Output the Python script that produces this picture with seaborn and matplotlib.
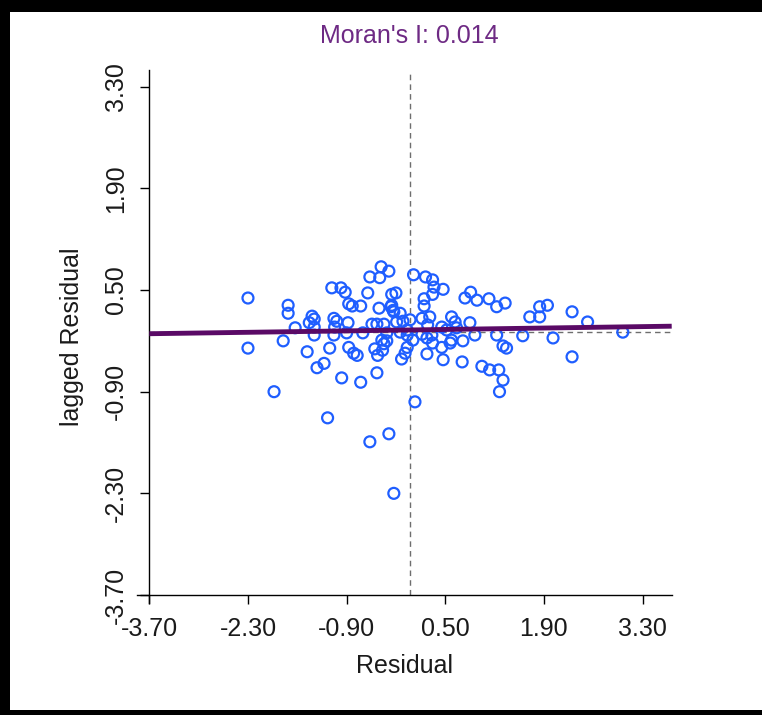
import numpy as np
import pandas as pd
import matplotlib
matplotlib.use("Agg")
import matplotlib.pyplot as plt
from matplotlib.patches import Rectangle
import seaborn as sns

# ---- data ----
residual = [-2.30, -2.30, -1.73, -1.73, -1.63, -1.80, -1.93, -1.46, -1.39, -1.36,
            -1.43, -1.36, -1.36, -1.32, -1.22, -1.14, -1.11, -0.98, -0.92, -1.08,
            -1.04, -1.07, -1.08, -0.90, -0.88, -0.87, -0.82, -0.70, -0.87, -0.80,
            -0.75, -0.97, -0.70, -0.60, -0.67, -0.57, -0.43, -0.41, -0.30, -0.44,
            -0.27, -0.24, -0.54, -0.47, -0.37, -0.40, -0.33, -0.37, -0.50, -0.46,
            -0.39, -0.47, -0.26, -0.14, -0.19, -0.10, -0.14, -0.04, -0.04, -0.12,
            -0.33, 0.05, 0.22, 0.32, 0.34, 0.47, 0.32, 0.20, 0.20, -0.20,
            0.78, 0.86, 0.95, 1.12, 1.23, 1.35, -0.26, -0.23, 0.00, 0.17,
            0.28, 0.25, 0.59, 0.64, 0.66, 0.85, 0.45, 0.52, -0.04, 0.04,
            0.17, 0.24, 0.31, 0.32, 0.45, 0.57, 0.59, 0.75, 0.92, -0.07,
            0.24, 0.47, 0.74, 1.23, 1.32, 1.37, 1.60, 1.70, 1.84, 1.84,
            1.95, 2.30, 2.52, 3.02, 2.03, 2.30, 1.02, 1.13, 1.26, 1.32,
            1.27, 0.07, -1.17, -0.57, -0.30, -0.23]
lagged = [0.39, -0.30, 0.29, 0.18, -0.02, -0.20, -0.90, -0.35, 0.14, 0.10,
          0.05, -0.01, -0.12, -0.57, -0.51, -0.30, 0.53, 0.53, 0.47, 0.11,
          0.07, -0.01, -0.12, -0.09, 0.05, 0.31, 0.28, 0.28, -0.29, -0.37,
          -0.40, -0.71, -0.77, 0.46, -0.09, 0.68, 0.67, 0.82, 0.76, 0.25,
          0.27, 0.22, 0.03, 0.03, 0.03, -0.19, -0.20, -0.24, -0.31, -0.40,
          -0.33, -0.64, 0.44, 0.18, 0.06, 0.07, -0.08, -0.05, -0.29, -0.45,
          -0.09, 0.71, 0.68, 0.64, 0.54, 0.51, 0.44, 0.38, 0.28, 0.46,
          0.39, 0.47, 0.36, 0.38, 0.27, 0.32, 0.29, 0.20, 0.09, 0.11,
          0.13, 0.02, 0.13, 0.06, -0.02, 0.05, -0.01, -0.05, -0.12, -0.19,
          -0.11, -0.16, -0.12, -0.23, -0.29, -0.23, -0.19, -0.20, -0.12, -0.37,
          -0.38, -0.46, -0.49, -0.12, -0.27, -0.30, -0.13, 0.13, 0.13, 0.27,
          0.29, 0.20, 0.06, -0.08, -0.16, -0.42, -0.55, -0.60, -0.60, -0.74,
          -0.90, -1.04, -1.26, -1.59, -1.48, -2.30]
tick_values = [-3.70, -2.30, -0.90, 0.50, 1.90, 3.30]
tick_labels = ["-3.70", "-2.30", "-0.90", "0.50", "1.90", "3.30"]
morans_i = 0.014
intercept = -0.05
residual_mean = 0.0
lagged_mean = -0.075
title_text = "Moran's I: 0.014"

df = pd.DataFrame({"Residual": residual, "lagged Residual": lagged})

sns.set_style("white")
plt.rcParams["font.family"] = ["Liberation Sans", "DejaVu Sans"]

W, H = 762, 715
fig = plt.figure(figsize=(W / 100, H / 100), dpi=100)
fig.patch.set_facecolor("black")
fig.add_artist(Rectangle((10 / W, 5 / H), (W - 10) / W, (H - 17) / H,
                         transform=fig.transFigure, facecolor="white",
                         edgecolor="none", zorder=-5))

ax = fig.add_axes([137 / W, (H - 603) / H, (671.7 - 137) / W, (603 - 70) / H])
ax.set_facecolor("none")

xlim = (-3.875, 3.714)
ylim = (-3.81, 3.53)
x_start_frac = (tick_values[0] - xlim[0]) / (xlim[1] - xlim[0])
y_start_frac = (tick_values[0] - ylim[0]) / (ylim[1] - ylim[0])

# reference lines
ax.axvline(residual_mean, ymin=y_start_frac, color="#6e6e6e", lw=1.0,
           ls=(0, (4, 3)), zorder=1)
ax.axhline(lagged_mean, xmin=x_start_frac, color="#6e6e6e", lw=1.0,
           ls=(0, (4, 3)), zorder=1)

sns.scatterplot(data=df, x="Residual", y="lagged Residual", ax=ax,
                marker="o", s=62, fc="none", ec="#1f5eff", linewidth=1.6,
                zorder=3)

line_x = np.array([tick_values[0], xlim[1]])
ax.plot(line_x, intercept + morans_i * line_x, color="#5a0a66", lw=3.5,
        zorder=4, solid_capstyle="butt")

ax.set_xlim(*xlim)
ax.set_ylim(*ylim)

for side in ["top", "right"]:
    ax.spines[side].set_visible(False)
ax.spines["left"].set_position(("data", tick_values[0]))
ax.spines["bottom"].set_position(("data", tick_values[0]))
for side in ["left", "bottom"]:
    ax.spines[side].set_linewidth(1.0)
    ax.spines[side].set_color("black")

ax.set_xticks(tick_values)
ax.set_xticklabels(tick_labels)
ax.set_yticks(tick_values)
ax.set_yticklabels(tick_labels, rotation=90, va="center")
ax.tick_params(axis="both", direction="out", length=6.5, width=1.0,
               color="black", labelsize=18, labelcolor="#1a1a1a", pad=9,
               left=True, bottom=True)

ax.set_xlabel("Residual", fontsize=18, color="#1a1a1a", labelpad=10)
ax.set_ylabel("lagged Residual", fontsize=18, color="#1a1a1a", labelpad=14)

fig.text(409 / W, 1 - 36 / H, title_text, ha="center", va="center",
         fontsize=18, color="#6e2a84")

fig.savefig("out.png", dpi=100, facecolor=fig.get_facecolor())
